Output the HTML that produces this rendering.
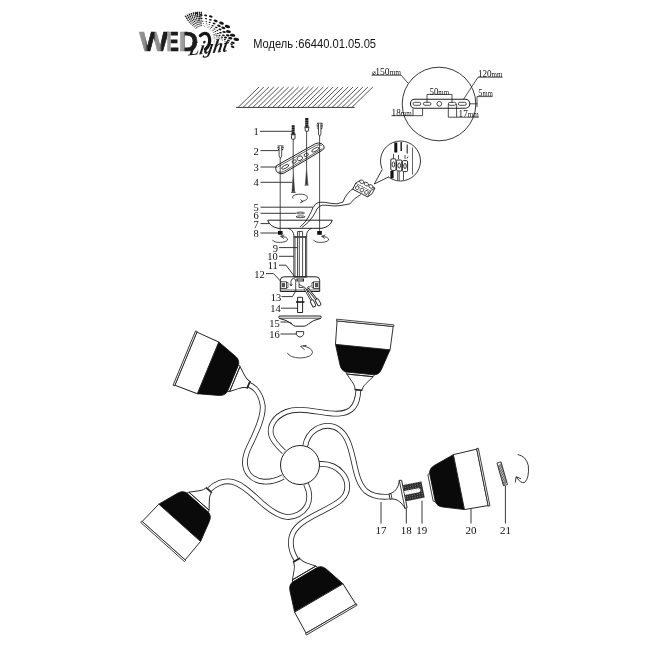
<!DOCTYPE html>
<html><head><meta charset="utf-8"><title>66440.01.05.05</title>
<style>
html,body{margin:0;padding:0;background:#fff;}
body{width:650px;height:650px;overflow:hidden;font-family:"Liberation Sans",sans-serif;}
svg{display:block;filter:grayscale(1)}
.s{font-family:"Liberation Serif",serif;fill:#111}
.l{fill:none;stroke:#222;stroke-width:.9}
</style></head><body>
<svg width="650" height="650" viewBox="0 0 650 650">
<defs>
<linearGradient id="gW" x1="0" x2="1" y1="0" y2="0"><stop offset="0" stop-color="#9a9a9a"/><stop offset=".2" stop-color="#8a8a8a"/><stop offset=".3" stop-color="#1c1c1c"/><stop offset=".5" stop-color="#1c1c1c"/><stop offset=".56" stop-color="#999"/><stop offset=".7" stop-color="#888"/><stop offset=".78" stop-color="#1c1c1c"/><stop offset="1" stop-color="#1c1c1c"/></linearGradient>
<linearGradient id="gE" x1="0" x2="1" y1="0" y2="0"><stop offset="0" stop-color="#aaa"/><stop offset=".34" stop-color="#999"/><stop offset=".42" stop-color="#1c1c1c"/><stop offset="1" stop-color="#1c1c1c"/></linearGradient>
<linearGradient id="gD" x1="0" x2="1" y1="0" y2="0"><stop offset="0" stop-color="#aaa"/><stop offset=".26" stop-color="#999"/><stop offset=".34" stop-color="#1c1c1c"/><stop offset="1" stop-color="#1c1c1c"/></linearGradient>
</defs>
<rect width="650" height="650" fill="#fff"/>

<!-- ===== logo ===== -->
<g id="logo">
<g fill="#161616"><ellipse cx="196.7" cy="13.2" rx="1.35" ry="0.76" transform="rotate(25 196.7 13.2)"/><ellipse cx="197.5" cy="16.1" rx="1.00" ry="0.56" transform="rotate(25 197.5 16.1)"/><ellipse cx="199.0" cy="19.1" rx="0.74" ry="0.41" transform="rotate(25 199.0 19.1)"/><ellipse cx="200.1" cy="21.7" rx="0.55" ry="0.31" transform="rotate(25 200.1 21.7)"/><ellipse cx="201.0" cy="23.7" rx="0.40" ry="0.23" transform="rotate(25 201.0 23.7)"/><ellipse cx="201.8" cy="25.3" rx="0.30" ry="0.17" transform="rotate(25 201.8 25.3)"/><ellipse cx="201.2" cy="15.0" rx="1.50" ry="0.84" transform="rotate(20 201.2 15.0)"/><ellipse cx="201.5" cy="18.3" rx="1.11" ry="0.62" transform="rotate(20 201.5 18.3)"/><ellipse cx="202.6" cy="21.3" rx="0.82" ry="0.46" transform="rotate(20 202.6 21.3)"/><ellipse cx="203.4" cy="23.5" rx="0.61" ry="0.34" transform="rotate(20 203.4 23.5)"/><ellipse cx="204.0" cy="25.4" rx="0.45" ry="0.25" transform="rotate(20 204.0 25.4)"/><ellipse cx="204.4" cy="26.8" rx="0.33" ry="0.19" transform="rotate(20 204.4 26.8)"/><ellipse cx="205.6" cy="15.4" rx="1.60" ry="0.90" transform="rotate(15 205.6 15.4)"/><ellipse cx="206.0" cy="18.7" rx="1.18" ry="0.66" transform="rotate(15 206.0 18.7)"/><ellipse cx="206.3" cy="21.7" rx="0.88" ry="0.49" transform="rotate(15 206.3 21.7)"/><ellipse cx="206.7" cy="23.9" rx="0.65" ry="0.36" transform="rotate(15 206.7 23.9)"/><ellipse cx="207.1" cy="25.7" rx="0.48" ry="0.27" transform="rotate(15 207.1 25.7)"/><ellipse cx="207.4" cy="27.2" rx="0.36" ry="0.20" transform="rotate(15 207.4 27.2)"/><ellipse cx="210.8" cy="16.5" rx="1.90" ry="1.06" transform="rotate(12 210.8 16.5)"/><ellipse cx="210.4" cy="19.8" rx="1.41" ry="0.79" transform="rotate(12 210.4 19.8)"/><ellipse cx="209.7" cy="22.4" rx="1.04" ry="0.58" transform="rotate(12 209.7 22.4)"/><ellipse cx="209.3" cy="24.6" rx="0.77" ry="0.43" transform="rotate(12 209.3 24.6)"/><ellipse cx="209.0" cy="26.3" rx="0.57" ry="0.32" transform="rotate(12 209.0 26.3)"/><ellipse cx="208.8" cy="27.7" rx="0.42" ry="0.24" transform="rotate(12 208.8 27.7)"/><ellipse cx="215.6" cy="20.9" rx="2.10" ry="1.18" transform="rotate(22 215.6 20.9)"/><ellipse cx="214.1" cy="23.5" rx="1.55" ry="0.87" transform="rotate(22 214.1 23.5)"/><ellipse cx="212.6" cy="25.7" rx="1.15" ry="0.64" transform="rotate(22 212.6 25.7)"/><ellipse cx="211.5" cy="27.4" rx="0.85" ry="0.48" transform="rotate(22 211.5 27.4)"/><ellipse cx="210.6" cy="28.7" rx="0.63" ry="0.35" transform="rotate(22 210.6 28.7)"/><ellipse cx="209.9" cy="29.7" rx="0.47" ry="0.26" transform="rotate(22 209.9 29.7)"/><ellipse cx="221.5" cy="23.1" rx="2.50" ry="1.40" transform="rotate(22 221.5 23.1)"/><ellipse cx="218.9" cy="25.7" rx="1.85" ry="1.04" transform="rotate(22 218.9 25.7)"/><ellipse cx="216.3" cy="27.4" rx="1.37" ry="0.77" transform="rotate(22 216.3 27.4)"/><ellipse cx="214.5" cy="29.0" rx="1.01" ry="0.57" transform="rotate(22 214.5 29.0)"/><ellipse cx="213.1" cy="30.2" rx="0.75" ry="0.42" transform="rotate(22 213.1 30.2)"/><ellipse cx="212.1" cy="31.0" rx="0.55" ry="0.31" transform="rotate(22 212.1 31.0)"/><ellipse cx="227.4" cy="26.5" rx="2.80" ry="1.57" transform="rotate(18 227.4 26.5)"/><ellipse cx="223.3" cy="27.9" rx="2.07" ry="1.16" transform="rotate(18 223.3 27.9)"/><ellipse cx="220.0" cy="29.4" rx="1.53" ry="0.86" transform="rotate(18 220.0 29.4)"/><ellipse cx="217.4" cy="30.5" rx="1.13" ry="0.64" transform="rotate(18 217.4 30.5)"/><ellipse cx="215.4" cy="31.5" rx="0.84" ry="0.47" transform="rotate(18 215.4 31.5)"/><ellipse cx="213.7" cy="32.3" rx="0.62" ry="0.35" transform="rotate(18 213.7 32.3)"/><ellipse cx="228.5" cy="31.6" rx="2.50" ry="1.40" transform="rotate(10 228.5 31.6)"/><ellipse cx="224.1" cy="32.0" rx="1.85" ry="1.04" transform="rotate(10 224.1 32.0)"/><ellipse cx="220.4" cy="32.7" rx="1.37" ry="0.77" transform="rotate(10 220.4 32.7)"/><ellipse cx="217.8" cy="33.5" rx="1.01" ry="0.57" transform="rotate(10 217.8 33.5)"/><ellipse cx="215.8" cy="34.0" rx="0.75" ry="0.42" transform="rotate(10 215.8 34.0)"/><ellipse cx="214.2" cy="34.4" rx="0.55" ry="0.31" transform="rotate(10 214.2 34.4)"/><ellipse cx="232.6" cy="35.3" rx="2.70" ry="1.51" transform="rotate(8 232.6 35.3)"/><ellipse cx="227.8" cy="35.3" rx="2.00" ry="1.12" transform="rotate(8 227.8 35.3)"/><ellipse cx="223.3" cy="35.3" rx="1.48" ry="0.83" transform="rotate(8 223.3 35.3)"/><ellipse cx="219.6" cy="35.3" rx="1.09" ry="0.61" transform="rotate(8 219.6 35.3)"/><ellipse cx="217.0" cy="35.5" rx="0.81" ry="0.45" transform="rotate(8 217.0 35.5)"/><ellipse cx="215.0" cy="35.6" rx="0.60" ry="0.34" transform="rotate(8 215.0 35.6)"/><ellipse cx="236.3" cy="39.4" rx="2.90" ry="1.62" transform="rotate(8 236.3 39.4)"/><ellipse cx="230.3" cy="38.3" rx="2.15" ry="1.20" transform="rotate(8 230.3 38.3)"/><ellipse cx="225.5" cy="37.5" rx="1.59" ry="0.89" transform="rotate(8 225.5 37.5)"/><ellipse cx="221.8" cy="37.2" rx="1.18" ry="0.66" transform="rotate(8 221.8 37.2)"/><ellipse cx="218.9" cy="37.0" rx="0.87" ry="0.49" transform="rotate(8 218.9 37.0)"/><ellipse cx="216.5" cy="36.8" rx="0.64" ry="0.36" transform="rotate(8 216.5 36.8)"/><ellipse cx="232.9" cy="42.7" rx="2.00" ry="1.12" transform="rotate(18 232.9 42.7)"/><ellipse cx="228.5" cy="40.5" rx="1.48" ry="0.83" transform="rotate(18 228.5 40.5)"/><ellipse cx="224.8" cy="39.4" rx="1.10" ry="0.61" transform="rotate(18 224.8 39.4)"/><ellipse cx="221.8" cy="38.9" rx="0.81" ry="0.45" transform="rotate(18 221.8 38.9)"/><ellipse cx="219.5" cy="38.5" rx="0.60" ry="0.34" transform="rotate(18 219.5 38.5)"/><ellipse cx="232.6" cy="46.8" rx="1.90" ry="1.06" transform="rotate(25 232.6 46.8)"/><ellipse cx="231.5" cy="44.2" rx="1.41" ry="0.79" transform="rotate(25 231.5 44.2)"/><ellipse cx="227.8" cy="42.3" rx="1.04" ry="0.58" transform="rotate(25 227.8 42.3)"/><ellipse cx="224.8" cy="41.2" rx="0.77" ry="0.43" transform="rotate(25 224.8 41.2)"/><ellipse cx="222.4" cy="40.3" rx="0.57" ry="0.32" transform="rotate(25 222.4 40.3)"/><ellipse cx="195.7" cy="28.4" rx="0.58" ry="0.32" transform="rotate(-149 195.7 28.4)"/><ellipse cx="194.1" cy="27.0" rx="0.67" ry="0.37" transform="rotate(-147 194.1 27.0)"/><ellipse cx="192.5" cy="25.5" rx="0.76" ry="0.42" transform="rotate(-146 192.5 25.5)"/><ellipse cx="190.9" cy="23.9" rx="0.84" ry="0.46" transform="rotate(-144 190.9 23.9)"/><ellipse cx="189.5" cy="22.2" rx="0.93" ry="0.51" transform="rotate(-143 189.5 22.2)"/><ellipse cx="188.1" cy="20.4" rx="1.02" ry="0.56" transform="rotate(-141 188.1 20.4)"/><ellipse cx="186.9" cy="18.5" rx="1.11" ry="0.61" transform="rotate(-140 186.9 18.5)"/><ellipse cx="185.7" cy="16.6" rx="1.20" ry="0.66" transform="rotate(-138 185.7 16.6)"/><ellipse cx="196.4" cy="27.8" rx="0.58" ry="0.32" transform="rotate(-144 196.4 27.8)"/><ellipse cx="194.9" cy="26.3" rx="0.67" ry="0.37" transform="rotate(-143 194.9 26.3)"/><ellipse cx="193.5" cy="24.7" rx="0.76" ry="0.42" transform="rotate(-141 193.5 24.7)"/><ellipse cx="192.1" cy="23.0" rx="0.84" ry="0.46" transform="rotate(-139 192.1 23.0)"/><ellipse cx="190.8" cy="21.2" rx="0.93" ry="0.51" transform="rotate(-138 190.8 21.2)"/><ellipse cx="189.7" cy="19.4" rx="1.02" ry="0.56" transform="rotate(-136 189.7 19.4)"/><ellipse cx="188.6" cy="17.5" rx="1.11" ry="0.61" transform="rotate(-135 188.6 17.5)"/><ellipse cx="187.6" cy="15.5" rx="1.20" ry="0.66" transform="rotate(-133 187.6 15.5)"/><ellipse cx="197.1" cy="27.3" rx="0.58" ry="0.32" transform="rotate(-139 197.1 27.3)"/><ellipse cx="195.8" cy="25.7" rx="0.67" ry="0.37" transform="rotate(-138 195.8 25.7)"/><ellipse cx="194.5" cy="24.0" rx="0.76" ry="0.42" transform="rotate(-136 194.5 24.0)"/><ellipse cx="193.3" cy="22.2" rx="0.84" ry="0.46" transform="rotate(-135 193.3 22.2)"/><ellipse cx="192.2" cy="20.4" rx="0.93" ry="0.51" transform="rotate(-133 192.2 20.4)"/><ellipse cx="191.2" cy="18.5" rx="1.02" ry="0.56" transform="rotate(-132 191.2 18.5)"/><ellipse cx="190.3" cy="16.5" rx="1.11" ry="0.61" transform="rotate(-130 190.3 16.5)"/><ellipse cx="189.5" cy="14.5" rx="1.20" ry="0.66" transform="rotate(-128 189.5 14.5)"/><ellipse cx="197.9" cy="26.8" rx="0.58" ry="0.32" transform="rotate(-135 197.9 26.8)"/><ellipse cx="196.7" cy="25.1" rx="0.67" ry="0.37" transform="rotate(-133 196.7 25.1)"/><ellipse cx="195.6" cy="23.4" rx="0.76" ry="0.42" transform="rotate(-132 195.6 23.4)"/><ellipse cx="194.6" cy="21.6" rx="0.84" ry="0.46" transform="rotate(-130 194.6 21.6)"/><ellipse cx="193.7" cy="19.7" rx="0.93" ry="0.51" transform="rotate(-128 193.7 19.7)"/><ellipse cx="192.8" cy="17.8" rx="1.02" ry="0.56" transform="rotate(-127 192.8 17.8)"/><ellipse cx="192.1" cy="15.8" rx="1.11" ry="0.61" transform="rotate(-125 192.1 15.8)"/><ellipse cx="191.5" cy="13.8" rx="1.20" ry="0.66" transform="rotate(-124 191.5 13.8)"/><ellipse cx="198.7" cy="26.4" rx="0.58" ry="0.32" transform="rotate(-130 198.7 26.4)"/><ellipse cx="197.6" cy="24.7" rx="0.67" ry="0.37" transform="rotate(-128 197.6 24.7)"/><ellipse cx="196.7" cy="22.9" rx="0.76" ry="0.42" transform="rotate(-127 196.7 22.9)"/><ellipse cx="195.9" cy="21.1" rx="0.84" ry="0.46" transform="rotate(-125 195.9 21.1)"/><ellipse cx="195.1" cy="19.2" rx="0.93" ry="0.51" transform="rotate(-124 195.1 19.2)"/><ellipse cx="194.5" cy="17.2" rx="1.02" ry="0.56" transform="rotate(-122 194.5 17.2)"/><ellipse cx="193.9" cy="15.3" rx="1.11" ry="0.61" transform="rotate(-121 193.9 15.3)"/><ellipse cx="193.5" cy="13.2" rx="1.20" ry="0.66" transform="rotate(-119 193.5 13.2)"/><ellipse cx="199.4" cy="26.1" rx="0.58" ry="0.32" transform="rotate(-125 199.4 26.1)"/><ellipse cx="198.6" cy="24.3" rx="0.67" ry="0.37" transform="rotate(-124 198.6 24.3)"/><ellipse cx="197.8" cy="22.5" rx="0.76" ry="0.42" transform="rotate(-122 197.8 22.5)"/><ellipse cx="197.2" cy="20.7" rx="0.84" ry="0.46" transform="rotate(-120 197.2 20.7)"/><ellipse cx="196.6" cy="18.8" rx="0.93" ry="0.51" transform="rotate(-119 196.6 18.8)"/><ellipse cx="196.1" cy="16.8" rx="1.02" ry="0.56" transform="rotate(-117 196.1 16.8)"/><ellipse cx="195.7" cy="14.9" rx="1.11" ry="0.61" transform="rotate(-116 195.7 14.9)"/><ellipse cx="195.5" cy="12.9" rx="1.20" ry="0.66" transform="rotate(-114 195.5 12.9)"/><ellipse cx="200.2" cy="25.9" rx="0.58" ry="0.32" transform="rotate(-120 200.2 25.9)"/><ellipse cx="199.5" cy="24.1" rx="0.67" ry="0.37" transform="rotate(-119 199.5 24.1)"/><ellipse cx="199.0" cy="22.3" rx="0.76" ry="0.42" transform="rotate(-117 199.0 22.3)"/><ellipse cx="198.5" cy="20.4" rx="0.84" ry="0.46" transform="rotate(-116 198.5 20.4)"/><ellipse cx="198.1" cy="18.5" rx="0.93" ry="0.51" transform="rotate(-114 198.1 18.5)"/><ellipse cx="197.8" cy="16.6" rx="1.02" ry="0.56" transform="rotate(-113 197.8 16.6)"/><ellipse cx="197.5" cy="14.6" rx="1.11" ry="0.61" transform="rotate(-111 197.5 14.6)"/><ellipse cx="197.4" cy="12.7" rx="1.20" ry="0.66" transform="rotate(-110 197.4 12.7)"/><ellipse cx="201.0" cy="25.7" rx="0.58" ry="0.32" transform="rotate(-116 201.0 25.7)"/><ellipse cx="200.5" cy="23.9" rx="0.67" ry="0.37" transform="rotate(-114 200.5 23.9)"/><ellipse cx="200.1" cy="22.1" rx="0.76" ry="0.42" transform="rotate(-113 200.1 22.1)"/><ellipse cx="199.7" cy="20.3" rx="0.84" ry="0.46" transform="rotate(-111 199.7 20.3)"/><ellipse cx="199.5" cy="18.4" rx="0.93" ry="0.51" transform="rotate(-109 199.5 18.4)"/><ellipse cx="199.4" cy="16.5" rx="1.02" ry="0.56" transform="rotate(-108 199.4 16.5)"/><ellipse cx="199.3" cy="14.6" rx="1.11" ry="0.61" transform="rotate(-106 199.3 14.6)"/><ellipse cx="199.4" cy="12.7" rx="1.20" ry="0.66" transform="rotate(-105 199.4 12.7)"/><ellipse cx="201.8" cy="25.6" rx="0.58" ry="0.32" transform="rotate(-111 201.8 25.6)"/><ellipse cx="201.4" cy="23.9" rx="0.67" ry="0.37" transform="rotate(-109 201.4 23.9)"/><ellipse cx="201.2" cy="22.1" rx="0.76" ry="0.42" transform="rotate(-108 201.2 22.1)"/><ellipse cx="201.0" cy="20.2" rx="0.84" ry="0.46" transform="rotate(-106 201.0 20.2)"/><ellipse cx="200.9" cy="18.4" rx="0.93" ry="0.51" transform="rotate(-105 200.9 18.4)"/><ellipse cx="200.9" cy="16.6" rx="1.02" ry="0.56" transform="rotate(-103 200.9 16.6)"/><ellipse cx="201.1" cy="14.7" rx="1.11" ry="0.61" transform="rotate(-102 201.1 14.7)"/><ellipse cx="201.3" cy="12.8" rx="1.20" ry="0.66" transform="rotate(-100 201.3 12.8)"/></g>
<g font-family="Liberation Sans" font-weight="bold" font-size="27.400" stroke-width=".7">
<text x="139.300" y="51.400" textLength="29" lengthAdjust="spacingAndGlyphs" fill="url(#gW)" stroke="url(#gW)">W</text>
<text x="166.300" y="51.400" textLength="12.600" lengthAdjust="spacingAndGlyphs" fill="url(#gE)" stroke="url(#gE)">E</text>
<text x="178.600" y="51.400" textLength="19.600" lengthAdjust="spacingAndGlyphs" fill="url(#gD)" stroke="url(#gD)">D</text>
</g>
<path d="M213 34q3 4 1 9.500M216.500 33q3.500 5 1.500 11.500M211 45q4 1 8-2M212 38q5-1 9 1" fill="none" stroke="#999" stroke-width=".5"/>
<path d="M200.400 35.600q3.600-3.800 7.300-1.200 3 3.400 1.500 9.500-1 3.400-3.800 5.300" fill="none" stroke="#161616" stroke-width="3.200" stroke-linecap="round"/>
<path d="M203.800 37.600q2.600-.4 2.600 2.600" fill="none" stroke="#fff" stroke-width="1"/>
<text x="0" y="0" font-family="Liberation Serif" font-style="italic" font-weight="bold" font-size="19" textLength="39" lengthAdjust="spacingAndGlyphs" fill="#1a1a1a" transform="translate(188 55.500) rotate(-6) skewX(-16)">Light</text>
</g>
<text x="253.200" y="48.400" font-family="Liberation Sans" font-size="12.600" fill="#151515" textLength="39.800" lengthAdjust="spacingAndGlyphs">Модель</text>
<text x="295.100" y="48.400" font-family="Liberation Sans" font-size="12.600" fill="#151515" textLength="81" lengthAdjust="spacingAndGlyphs">:66440.01.05.05</text>

<!-- ===== ceiling ===== -->
<path d="M238.0 107.5L259.0 87 M242.9 107.5L263.9 87 M247.9 107.5L268.9 87 M252.8 107.5L273.8 87 M257.8 107.5L278.8 87 M262.7 107.5L283.7 87 M267.7 107.5L288.7 87 M272.6 107.5L293.6 87 M277.6 107.5L298.6 87 M282.5 107.5L303.5 87 M287.5 107.5L308.5 87 M292.4 107.5L313.4 87 M297.4 107.5L318.4 87 M302.3 107.5L323.3 87 M307.3 107.5L328.3 87 M312.2 107.5L333.2 87 M317.2 107.5L338.2 87 M322.1 107.5L343.1 87 M327.1 107.5L348.1 87 M332.0 107.5L353.0 87 M337.0 107.5L358.0 87 M341.9 107.5L362.9 87 M346.9 107.5L367.9 87 M351.8 107.5L372.8 87" stroke="#444" stroke-width="0.9"/>
<path d="M236 107.4H354.6" stroke="#3a3a3a" stroke-width="1"/>

<!-- ===== exploded mounting assembly ===== -->
<g class="l" id="assembly">
<!-- long vertical guide lines -->
<!-- wall plugs / screws at top -->
<path d="M293.2 125.3V134" stroke-width="3" stroke="#1e1e1e" stroke-dasharray="2 .25"/>
<path d="M290.8 134.3h4.9" stroke-width="1.2"/>
<rect x="291.5" y="134.8" width="3.5" height="4.4" rx=".8" fill="#fff" stroke-width=".9"/>
<path d="M306.8 118V127" stroke-width="3.2" stroke="#1e1e1e" stroke-dasharray="2 .25"/>
<path d="M304.4 127.2h5" stroke-width="1.2"/>
<rect x="305.2" y="127.6" width="3.4" height="3.6" rx=".6" fill="#fff" stroke-width=".9"/>
<path d="M317 123.3h5.6M316.6 125.1h6.4M316.8 126.9h6M317.4 128.7h4.8" stroke-width="1"/>
<path d="M318.5 123.5v10.5l1.2 2.3 1.2-2.3v-10.5" fill="#fff" stroke-width=".8"/>
<!-- screw 2 -->
<path d="M277.6 146h6M277.4 147.8h6.4M278 149.6h5.2" stroke-width="1"/>
<path d="M279.1 146.3v9.7l1.3 2.2 1.3-2.2v-9.7" fill="#fff" stroke-width=".8"/>
<!-- mounting bracket 3 -->
<path d="M276.3 165.8L315.5 143.6q3.2-1.5 6.4 .3l1.8 1.8q1.5 2.5-1 4.3L284.2 173q-3.2 1.5-6.4-.3l-1.5-1.8q-1.3-2.7 0-5.1z" fill="#fff" stroke-width="1"/>
<path d="M278.5 171.8q2.6 1 5.2-.3L322.3 148.6M277.6 167L316.2 145.3q2.8-1.2 5.4 .2" stroke-width=".7"/>
<ellipse cx="285.2" cy="166.8" rx="4" ry="1.5" transform="rotate(-29 285.2 166.8)" stroke-width=".8"/>
<ellipse cx="294.2" cy="161.6" rx="2.3" ry="1.5" transform="rotate(-29 294.2 161.6)" stroke-width=".8"/>
<ellipse cx="299.8" cy="158.3" rx="2.9" ry="2.1" transform="rotate(-29 299.8 158.3)" stroke-width=".8"/>
<ellipse cx="306.2" cy="154.8" rx="2.3" ry="1.5" transform="rotate(-29 306.2 154.8)" stroke-width=".8"/>
<ellipse cx="315.3" cy="149.7" rx="4" ry="1.5" transform="rotate(-29 315.3 149.7)" stroke-width=".8"/>
<path d="M280.2 158V231M319.6 136V231M293.2 139V172M306.6 131V168" stroke-width=".8"/>
<!-- long screws 4 -->
<path d="M293.3 172L294.6 191.5H292zM306.6 168L307.8 184.3H305.4z" fill="#333" stroke="#333" stroke-width=".5"/>
<path d="M291.2 192.3h4.4M304.7 185h3.8" stroke-width="1.1"/>
<!-- rotate arrow under screws -->
<path d="M293 198.5q-2-3.5 5.5-4.3 8-.4 9 3 .3 3.2-6 4.2M300.5 199.4l2.3 2.3-2.7 1.2" stroke-width=".8"/>
<!-- washers 6 -->
<ellipse cx="300.5" cy="213" rx="4" ry=".9" stroke-width=".8"/>
<ellipse cx="300.5" cy="216.8" rx="4.4" ry=".9" stroke-width=".8"/>
<!-- canopy bowl 7 -->
<path d="M267.7 220.2H332.3Q330.5 226.5 322 228.3H278Q269.5 226.5 267.7 220.2z" fill="none" stroke-width="1"/>
<path d="M288 228.3Q293.5 230 294 236M312 228.3Q306.5 230 306.5 236" stroke-width=".9"/>
<!-- nuts 8 -->
<rect x="278" y="231" width="4.6" height="3.8" fill="#111" stroke="none"/>
<rect x="317.2" y="231" width="4.6" height="3.8" fill="#111" stroke="none"/>
<!-- rotate arrows beside nuts -->
<path d="M272.5 239.8q1 2.8 8 2.6 7.5-.6 7.2-3.4-.6-2.2-6.5-2.6M284.3 235l-3.8 1.3 3.3 2.2" stroke-width=".8"/>
<path d="M313.5 239.8q1 2.8 8 2.6 7.5-.6 7.2-3.4-.6-2.2-6.5-2.6M325.3 235l-3.8 1.3 3.3 2.2" stroke-width=".8"/>
<!-- wire from bowl to terminal block -->
<path d="M300 227Q305.5 222.5 308.5 217T313 207.5Q315.5 202.8 319 202.3Q325 201.8 331 203.4T343 202Q346 193 354.5 187.7" stroke-width=".9"/>
<path d="M302 227.5Q309 222.5 312.5 217T317 209Q319 205.5 322.5 205.2Q327 205 332 205.8T350 203.8Q354 198 360.8 194.6" stroke-width=".9"/>
<!-- stem 9/10 -->
<path d="M293.8 236V277M306.7 236V277M295 236V277M305.5 236V277" stroke-width=".8"/>
<path d="M297.5 277V231.5H302.6V277M299.3 231.5V277" stroke-width=".8"/>
<path d="M293.8 237H306.7" stroke-width="1.8" stroke="#444"/>
<!-- junction box 12 -->
<path d="M280.3 291.5V280.5Q280.3 276.8 284 276.8H316Q319.7 276.8 319.7 280.5V291.5z" fill="none" stroke-width="1"/>
<path d="M280.3 290h39.4" stroke-width=".7"/>
<rect x="280.8" y="281.8" width="5.6" height="6.6" fill="#fff" stroke-width=".8"/>
<rect x="281.8" y="283" width="3.2" height="4.2" fill="#555" stroke="none"/>
<rect x="313.6" y="281.8" width="5.6" height="6.6" fill="#fff" stroke-width=".8"/>
<rect x="315" y="283" width="3.2" height="4.2" fill="#555" stroke="none"/>
<path d="M286.4 282.5h1.6v5.2h-1.6M313.6 282.5h-1.6v5.2h1.6" stroke-width=".7"/>
<path d="M294 276.8h12.7M297 279h6.4v2h-6.4z" stroke-width="1.2"/>
<path d="M291 285.5V281q.4-2.6 2.7-2.6 2 .2 2 3V292M289.8 283.8l1.2 2.2 1.3-2" stroke-width=".8"/>
<path d="M299 282v5.5h4.5M299 284.5l6 3" stroke-width=".8"/>
<path d="M309 286q-2 1-2 3.5M311 285.5q-2.5 1.5-2.5 5" stroke-width=".8"/>
<!-- wires hanging from box with ferrules -->
<path d="M304.5 288L311.3 300M307.5 288.5L316.3 299.3" stroke-width="2.3"/>
<path d="M304.5 288L311.3 300M307.5 288.5L316.3 299.3" stroke="#fff" stroke-width=".9"/>
<rect x="-3.6" y="-1.7" width="7.2" height="3.4" rx="1.2" transform="translate(313 303.3) rotate(63)" fill="#fff" stroke-width=".9"/>
<rect x="-3.6" y="-1.7" width="7.2" height="3.4" rx="1.2" transform="translate(318.1 302.3) rotate(60)" fill="#fff" stroke-width=".9"/>
<!-- part 14 -->
<path d="M297.6 297.3h5v15.2h-5z" stroke-width="1"/>
<path d="M296 302h8.4" stroke-width="1.7"/>
<!-- cap 15 -->
<path d="M279.3 316h41.4q.9 1.3 0 2.4-8 1.6-12.3 5.6-2 1.8-3.8 2.2h-9.2q-1.8-.4-3.8-2.2-4.3-4-12.3-5.6-.9-1.1 0-2.4z" fill="none" stroke-width="1"/>
<path d="M279.5 318.2h41" stroke-width=".8"/>
<!-- finial 16 -->
<path d="M296.3 331.6h7.4q.6 3-1.6 4.8-2.1 1.4-4.2 0-2.2-1.8-1.6-4.8z" stroke-width=".9"/>
<!-- big rotate arrow -->
<path d="M287.3 352.8q2.5 5 13 5.2 11.5-.6 12.2-5.6-.2-4.4-9.5-6.6M306.5 345.3l-6 1 4.2 3.6" stroke-width=".8"/>
</g>

<!-- leader lines for 1-16 -->
<g class="l" stroke-width=".9">
<path d="M260 131.3H292M260.5 150.6H278.5M260.5 167H277M260.5 182.3H292.2M260.5 207.2H313M260.5 213.3H296M260.5 223.6H269.5M260.5 233H278"/>
<path d="M279 247.6H297.5M279 256.3H293.8M279 265.2H286L294.5 276.5M266 273.6H273.5L281 281.5M281.5 296.6H292.5L296 290.5M281 308.2H297.6M280.5 322H288.5L292 323.5M280.5 334H296.3"/>
</g>
<g class="s" font-size="10.5" text-anchor="middle">
<text x="256.2" y="135.3">1</text><text x="256.2" y="154.6">2</text><text x="256.2" y="171">3</text><text x="256.2" y="186.3">4</text>
<text x="256.2" y="211.2">5</text><text x="256.2" y="218.6">6</text><text x="256.2" y="227.8">7</text><text x="256.2" y="237.3">8</text>
<text x="275.3" y="251.6">9</text><text x="272.6" y="260.3">10</text><text x="272.8" y="269.2">11</text><text x="259.5" y="278">12</text>
<text x="276" y="301.2">13</text><text x="275.6" y="312.3">14</text><text x="274.6" y="326.6">15</text><text x="274.6" y="338">16</text>
</g>

<!-- ===== bracket dimension detail ===== -->
<g class="l" id="dims">
<circle cx="439" cy="104" r="36.8" stroke-width=".9"/>
<rect x="410.4" y="99.3" width="59.4" height="9" rx="4.5" fill="#fff" stroke-width="1.1"/>
<rect x="413" y="102.3" width="7.8" height="3" rx="1.5" stroke-width=".8"/>
<rect x="423.4" y="102.3" width="7.6" height="3" rx="1.5" stroke-width=".8"/>
<circle cx="439.3" cy="103.8" r="2.4" stroke-width=".8"/>
<rect x="448.4" y="102.3" width="7.6" height="3" rx="1.5" stroke-width=".8"/>
<rect x="458.3" y="102.3" width="8" height="3" rx="1.5" stroke-width=".8"/>
<!-- 150 leader -->
<path d="M371.5 75.2H401.2L408.3 83.5" stroke-width=".8"/>
<!-- 120 leader -->
<path d="M502.5 77.2H478L463.4 99.5" stroke-width=".8"/>
<!-- 50 bracket -->
<path d="M427 102.6V94.4H452V102.6" stroke-width=".8"/>
<!-- 5mm -->
<path d="M492.6 96.6H477V107" stroke-width=".8"/>
<path d="M470 103.8h7.5" stroke-width=".8"/>
<!-- 18mm -->
<path d="M391.5 115.7H422.6V108.3M413 108.3V115.7" stroke-width=".8"/>
<!-- 17mm -->
<path d="M448.3 104V117.2H478.8M456.6 104V117.2" stroke-width=".8"/>
</g>
<g class="s" font-size="10.4">
<text x="371.6" y="75" textLength="29.5" lengthAdjust="spacingAndGlyphs"><tspan font-size="7">&#8960;</tspan>150<tspan font-size="8">mm</tspan></text>
<text x="478" y="77" textLength="24.5" lengthAdjust="spacingAndGlyphs">120<tspan font-size="8">mm</tspan></text>
<text x="429.5" y="94.6" textLength="19.5" lengthAdjust="spacingAndGlyphs">50<tspan font-size="8">mm</tspan></text>
<text x="478.3" y="96.4" textLength="14.5" lengthAdjust="spacingAndGlyphs">5<tspan font-size="8">mm</tspan></text>
<text x="391.6" y="115.6" textLength="20" lengthAdjust="spacingAndGlyphs">18<tspan font-size="8">mm</tspan></text>
<text x="458.6" y="117" textLength="20" lengthAdjust="spacingAndGlyphs">17<tspan font-size="8">mm</tspan></text>
</g>

<!-- ===== terminal block + magnifier ===== -->
<g class="l" id="terminal">
<circle cx="400.5" cy="161" r="20" stroke-width=".9" fill="#fff"/>
<path d="M382.2 169.5L374.3 184L388.8 176.8" fill="#fff" stroke-width=".9"/>
<path d="M383 168.5L388.3 176.3" stroke="#fff" stroke-width="2"/>
<!-- inside magnifier -->
<path d="M395.8 142.5V152.5" stroke-width="3" stroke="#111"/>
<path d="M401.2 142V151" stroke-width="1.5" stroke="#222"/>
<path d="M407.2 144.5V153.5" stroke-width="1.2" stroke="#333"/>
<path d="M412.5 147.5V174.5" stroke-width=".7"/>
<path d="M392 171V178.3" stroke-width="3.2" stroke="#111"/>
<path d="M397.7 171.5V180.3M403.5 171.5V180M399.2 171.5V180.5" stroke-width=".8"/>
<path d="M393.5 154v4.5M398.5 155v4M405 155v4M408 156.5l-1 2" stroke-width=".8"/>
<rect x="390.8" y="158.8" width="5.2" height="11.6" rx="1.2" fill="#fff" stroke-width="1"/>
<rect x="396.6" y="160" width="5.2" height="11" rx="1.2" fill="#fff" stroke-width="1"/>
<rect x="402.4" y="160.6" width="5.2" height="11" rx="1.2" fill="#fff" stroke-width="1"/>
<ellipse cx="393.4" cy="164.5" rx="1.3" ry="2.6" stroke-width=".9"/>
<ellipse cx="399.2" cy="165.5" rx="1.3" ry="2.6" stroke-width=".9"/>
<ellipse cx="405" cy="166" rx="1.3" ry="2.6" stroke-width=".9"/>
<!-- 3D terminal block -->
<g transform="translate(354.8 185) rotate(27) scale(.86)">
<path d="M0 -2.5h19.5v8H0z" fill="#fff" stroke-width="1"/>
<path d="M0 -2.5l3-5h19.5l-3 5M22.5 -7.5v7.6l-3 5.4" fill="#fff" stroke-width=".9"/>
<ellipse cx="5.5" cy="-7" rx="2.6" ry="1.9" fill="#fff" stroke-width=".9"/>
<ellipse cx="11.5" cy="-7" rx="2.6" ry="1.9" fill="#fff" stroke-width=".9"/>
<ellipse cx="17.5" cy="-7" rx="2.6" ry="1.9" fill="#fff" stroke-width=".9"/>
<ellipse cx="4" cy="1.5" rx="2" ry="2.3" stroke-width=".9"/>
<ellipse cx="10" cy="1.5" rx="2" ry="2.3" stroke-width=".9"/>
<ellipse cx="16" cy="1.5" rx="2" ry="2.3" stroke-width=".9"/>
</g>
</g>

<!-- ===== lamp body ===== -->
<defs>
<g id="shadeBody">
<path d="M17 -14.5C17.6 -17.8 19.5 -20 23.5 -21.3L44 -28V28L23.5 21.3C19.5 20 17.6 17.8 17 14.5z" fill="#0a0a0a" stroke="#111" stroke-width=".8"/>
<path d="M44 -28L68 -28.8V28.8L44 28z" fill="#fff" stroke="#222" stroke-width=".9"/>
<path d="M68 -29.4h1.7v58.8h-1.7z" fill="#fff" stroke="#222" stroke-width=".8"/>
<path d="M15 -13.5L17 -14.5M15 13.5L17 14.5M15 -13.5V13.5" fill="none" stroke="#222" stroke-width=".8"/>
</g>
<g id="shadeNeck">
<path d="M-.3 -3.7H1C4 -4.3 6 -5.8 8 -7.6L15 -13.5V13.5L8 7.6C6 5.8 4 4.3 1 3.7H-.3z" fill="#fff" stroke="#222" stroke-width=".9"/>
<path d="M.3 -3.7V3.7" stroke="#222" stroke-width="1.4" fill="none"/>
</g>
</defs>
<g id="arms" fill="none" stroke-linecap="butt">
<g stroke="#2a2a2a" stroke-width="5.7">
<path id="aA" d="M248.7 384.7C255 387 260.8 394 262.6 405C264 416 256.5 432 249.5 446C243.5 458 243.5 468 249.5 475C256.5 483 270 484 283 477"/>
<path id="aB" d="M358.5 389C358 397 357 404.5 351 409.5C344 415 334 414.3 322 412.3C308 410.3 296 408 286 412C275 416.5 269 425.5 271 434.5C272.5 441 277.5 446 284 452"/>
<path id="aC" d="M305 447C306 440 309 433.5 316 429.2C324 424.3 333.5 424.7 340.5 430.7C347.5 436.7 350.4 447 353.4 460C356.4 474 358.6 484 365.8 491C372 496 381 497.5 390 496.5"/>
<path id="aD" d="M319 464C327 463.5 336 466 342 473C349 481 349 492 342 499C336 505 326 509 314 515.5C303 521.5 294 527 291.5 537C289.5 545 292 553 296.5 560"/>
<path id="aE" d="M306 484C309 490 311 498 307 506C303 513 295 517.5 287 517C277 516 268 509 258 499.5C250 492.3 243 485 233 482C224 479.5 215 484 209.5 489.5"/>
</g>
<g stroke="#fff" stroke-width="4">
<use href="#aA"/><use href="#aB"/><use href="#aC"/><use href="#aD"/><use href="#aE"/>
</g>
</g>
<circle cx="300" cy="465" r="19.5" fill="#fff" stroke="#222" stroke-width="1"/>
<!-- shades -->
<g transform="translate(248.7 384.7) rotate(-157.5)"><use href="#shadeNeck"/><use href="#shadeBody"/></g>
<g transform="translate(358.5 390) rotate(-84.3) scale(.98)"><use href="#shadeNeck"/><use href="#shadeBody"/></g>
<g transform="translate(209 490) rotate(131.8)"><use href="#shadeNeck"/><use href="#shadeBody"/></g>
<g transform="translate(296.5 560) rotate(59.6)"><use href="#shadeNeck"/><use href="#shadeBody"/></g>
<g transform="translate(415.8 490.8) rotate(-11.4)"><use href="#shadeBody"/></g>
<!-- socket 18 / thread 19 -->
<g transform="translate(390 496.5) rotate(-11.4)">
<path d="M-.5 -2.8H1.5C7 -4 10.5 -8 12.3 -14L14.6 -13.6V14.2L12.3 14.6C10.5 8.5 7 4 1.5 2.8H-.5z" fill="#fff" stroke="#222" stroke-width=".9"/>
<path d="M12.3 -14V14.6M1.5 -2.8V2.8" stroke="#222" stroke-width=".8" fill="none"/>
<path d="M15 -8.6H33.8V7.8H15z" fill="#2e2e2e"/>
<path d="M15 -2.5H29.5q1.6 0 1.6 2t-1.6 2H15z" fill="#fff"/>
<path d="M17 -8.6V7.8M19.5 -8.6V7.8M22 -8.6V7.8M24.5 -8.6V7.8M27 -8.6V7.8M29.5 -8.6V7.8M32 -8.6V7.8" stroke="#aaa" stroke-width=".6" stroke-dasharray="1 1.3" fill="none"/>
</g>
<!-- ring 21 -->
<g transform="translate(499 462.5) rotate(74)">
<rect x="0" y="-2.1" width="23.5" height="4.2" fill="#fff" stroke="#222" stroke-width=".8"/>
<path d="M1.5 -2.1l2 4.2M4 -2.1l2 4.2M6.5 -2.1l2 4.2M9 -2.1l2 4.2M11.5 -2.1l2 4.2M14 -2.1l2 4.2M16.5 -2.1l2 4.2M19 -2.1l2 4.2M21 -2.1l2 4.2M2.7 -2.1l2 4.2M5.2 -2.1l2 4.2M7.7 -2.1l2 4.2M10.2 -2.1l2 4.2M12.7 -2.1l2 4.2M15.2 -2.1l2 4.2M17.7 -2.1l2 4.2M20 -2.1l2 4.2" stroke="#222" stroke-width=".7"/>
</g>
<!-- rotation arrow 21 -->
<path class="l" d="M517.7 454.5Q526 456 528.3 465.5Q529.5 478 524.5 482.5Q520.5 483.5 516.3 477M515.3 482.5l.8-5.8 5 2.2" stroke-width=".8"/>
<!-- leaders 17-21 -->
<path class="l" d="M381 502V523.5M406.3 508V523.5M422 500.6V523.5M471 509V523.5M505.4 486V523.5" stroke-width=".9"/>
<g class="s" font-size="11" text-anchor="middle">
<text x="381" y="534">17</text><text x="406.3" y="534">18</text><text x="421.8" y="534">19</text><text x="471" y="534">20</text><text x="505.5" y="534">21</text>
</g>

</svg>
</body></html>
